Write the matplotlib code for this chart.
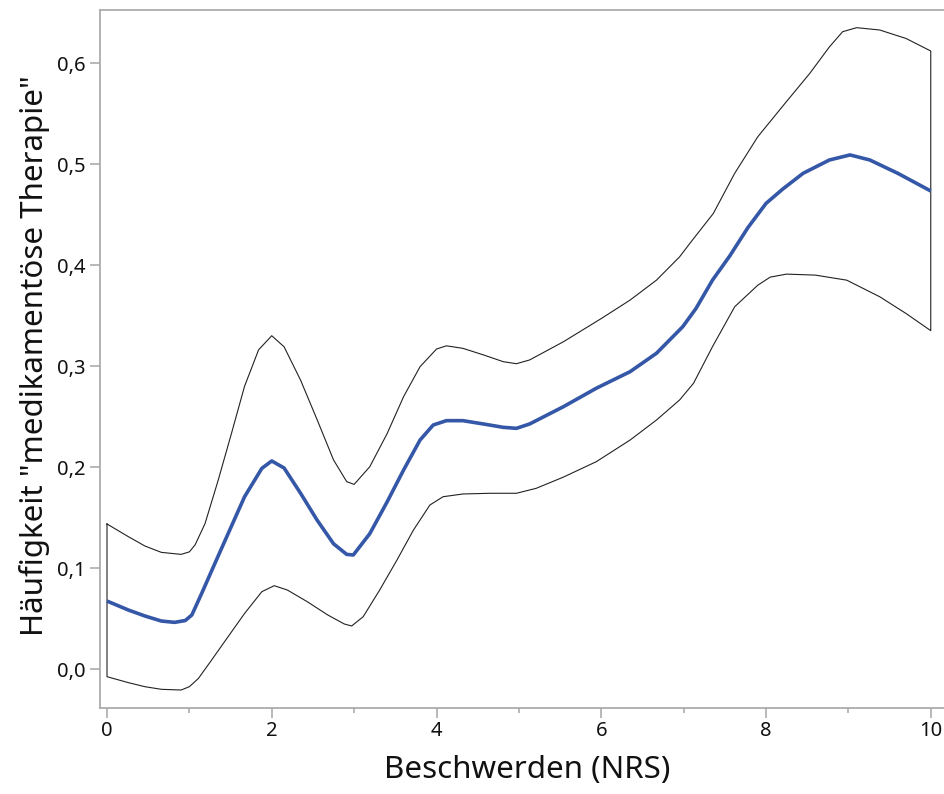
import numpy as np
import matplotlib
matplotlib.use("Agg")
import matplotlib.pyplot as plt
from matplotlib.ticker import MultipleLocator, FuncFormatter

# ---- data ----
mean_x = [0.0, 0.26, 0.46, 0.66, 0.82, 0.95, 1.03, 1.15, 1.31, 1.47, 1.67, 1.88, 2.0,
          2.15, 2.35, 2.55, 2.75, 2.91, 2.99, 3.19, 3.4, 3.6, 3.8, 3.96, 4.12, 4.32,
          4.57, 4.81, 4.97, 5.13, 5.54, 5.94, 6.35, 6.67, 6.99, 7.15, 7.35, 7.56, 7.78,
          8.0, 8.2, 8.45, 8.77, 9.02, 9.26, 9.6, 10.0]
mean_y = [0.0673, 0.0584, 0.0525, 0.0475, 0.0462, 0.048, 0.0535, 0.075, 0.1046, 0.134,
          0.1706, 0.1987, 0.206, 0.199, 0.174, 0.1475, 0.124, 0.1135, 0.1129, 0.134,
          0.1654, 0.197, 0.2267, 0.2416, 0.2459, 0.2459, 0.2426, 0.2393, 0.2383, 0.2426,
          0.2597, 0.278, 0.2944, 0.3126, 0.339, 0.357, 0.385, 0.409, 0.437, 0.461,
          0.475, 0.4908, 0.504, 0.509, 0.504, 0.4908, 0.4733]

upper_x = [0.0, 0.26, 0.46, 0.66, 0.9, 1.0, 1.07, 1.19, 1.35, 1.51, 1.67, 1.84, 2.0,
           2.15, 2.35, 2.55, 2.75, 2.91, 3.0, 3.19, 3.4, 3.6, 3.8, 4.0, 4.12, 4.32,
           4.57, 4.81, 4.97, 5.13, 5.54, 6.0, 6.35, 6.67, 6.95, 7.1, 7.36, 7.62, 7.9,
           8.25, 8.53, 8.77, 8.93, 9.1, 9.38, 9.7, 10.0]
upper_y = [0.1436, 0.131, 0.1218, 0.1155, 0.1135, 0.116, 0.123, 0.144, 0.187, 0.233,
           0.280, 0.316, 0.330, 0.319, 0.286, 0.247, 0.207, 0.1855, 0.1828, 0.2003,
           0.233, 0.2696, 0.2993, 0.3168, 0.320, 0.3175, 0.311, 0.3043, 0.3023, 0.306,
           0.324, 0.347, 0.3653, 0.385, 0.408, 0.424, 0.451, 0.4908, 0.527, 0.562, 0.5896,
           0.616, 0.631, 0.635, 0.6327, 0.6243, 0.6119]

lower_x = [0.0, 0.26, 0.46, 0.66, 0.9, 1.0, 1.11, 1.27, 1.47, 1.67, 1.88, 2.03, 2.19,
           2.43, 2.68, 2.88, 2.97, 3.11, 3.31, 3.52, 3.72, 3.92, 4.08, 4.32, 4.65,
           4.97, 5.21, 5.54, 5.94, 6.35, 6.67, 6.95, 7.12, 7.35, 7.62, 7.9, 8.05, 8.25,
           8.6, 8.98, 9.38, 9.7, 10.0]
lower_y = [-0.0076, -0.0135, -0.0175, -0.0201, -0.0208, -0.0175, -0.0093, 0.0089, 0.032,
           0.055, 0.0766, 0.0825, 0.0782, 0.0667, 0.0535, 0.0446, 0.0426, 0.0518, 0.0782,
           0.1079, 0.1376, 0.1624, 0.1706, 0.1733, 0.174, 0.174, 0.1789, 0.190, 0.2053,
           0.2267, 0.2465, 0.2663, 0.2829, 0.3191, 0.3587, 0.380, 0.388, 0.391, 0.390,
           0.385, 0.3686, 0.352, 0.335]

x_ticks = [0, 2, 4, 6, 8, 10]
y_ticks = [0.0, 0.1, 0.2, 0.3, 0.4, 0.5, 0.6]
x_label = "Beschwerden (NRS)"
y_label = 'Häufigkeit "medikamentöse Therapie"'

# ---- drawing ----
plt.rcParams['font.family'] = ['Noto Sans', 'DejaVu Sans']
W, H = 945, 794
fig = plt.figure(figsize=(W / 100, H / 100), dpi=100)
ax = fig.add_axes([100 / W, (H - 708) / H, 846 / W, 698 / H])

spine_c = '#a6a6a6'
# confidence band as a closed outline
band_x = np.concatenate([upper_x, lower_x[::-1], upper_x[:1]])
band_y = np.concatenate([upper_y, lower_y[::-1], upper_y[:1]])
ax.plot(band_x, band_y, color='#222222', lw=0.8)
ax.plot(mean_x, mean_y, color='#3557a7', lw=2.6, solid_capstyle='butt',
        solid_joinstyle='round')

ax.set_xlim(-0.085, 10.185)
ax.set_ylim(-0.0386, 0.6525)

ax.set_xticks(x_ticks)
ax.xaxis.set_minor_locator(MultipleLocator(1))
ax.set_yticks(y_ticks)
ax.yaxis.set_major_formatter(FuncFormatter(lambda v, p: f"{v:.1f}".replace('.', ',')))
ax.tick_params(axis='both', which='major', length=7, width=1.1, color=spine_c,
               labelsize=14.5, labelcolor='#111111')
ax.tick_params(axis='x', which='major', pad=2)
ax.tick_params(axis='y', which='major', pad=3.5)
ax.tick_params(axis='x', which='minor', length=3.5, width=1.1, color=spine_c)

for s in ['left', 'bottom', 'top']:
    ax.spines[s].set_color(spine_c)
    ax.spines[s].set_linewidth(1.2)
ax.spines['right'].set_visible(False)

ax.set_xlabel(x_label, fontsize=22.5, color='#111111')
ax.xaxis.set_label_coords(0.505, -0.067)
ax.set_ylabel(y_label, fontsize=22.5, color='#111111')
ax.yaxis.set_label_coords(-0.059, 0.505)

fig.savefig('out.png', dpi=100)
